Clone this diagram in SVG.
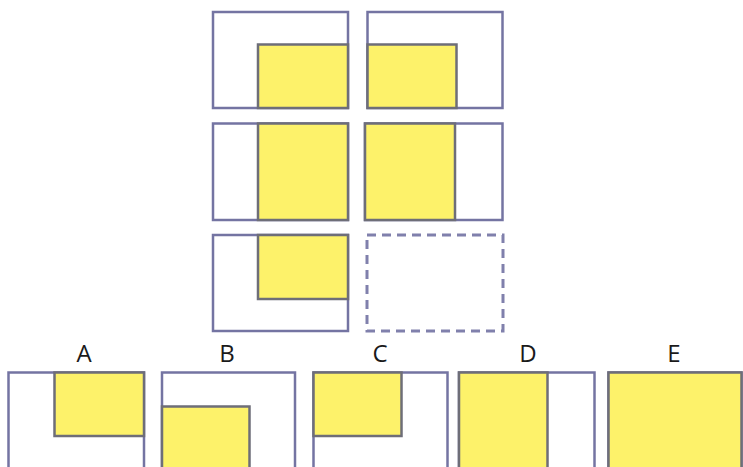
<svg xmlns="http://www.w3.org/2000/svg" width="743" height="467" viewBox="0 0 743 467">
<style>
.frame{fill:#fff;stroke:#7474a2;stroke-width:2.5}
.fill{fill:#fdf26a;stroke:#6e6e78;stroke-width:2.5}
.dash{fill:none;stroke:#8080ac;stroke-width:3;stroke-dasharray:9 6}
.lbl{font-family:"Open Sans","Liberation Sans",sans-serif;font-size:24px;fill:#1a1a1a;text-anchor:middle}
</style>
<rect width="743" height="467" fill="#fff"/>
<g id="r1c1"><rect class="frame" x="213" y="12" width="135" height="96"/><rect class="fill" x="258" y="44.5" width="90" height="63.5"/></g>
<g id="r1c2"><rect class="frame" x="367.5" y="12" width="135" height="96"/><rect class="fill" x="367.5" y="44.5" width="89" height="63.5"/></g>
<g id="r2c1"><rect class="frame" x="213" y="123.5" width="135" height="96.5"/><rect class="fill" x="258" y="123.5" width="90" height="96.5"/></g>
<g id="r2c2"><rect class="frame" x="365" y="123.5" width="137.5" height="96.5"/><rect class="fill" x="365" y="123.5" width="90" height="96.5"/></g>
<g id="r3c1"><rect class="frame" x="213" y="235" width="135" height="96"/><rect class="fill" x="258" y="235" width="90" height="64"/></g>
<g id="r3c2"><rect class="dash" x="367" y="235" width="136" height="96"/></g>
<g id="optA"><text class="lbl" x="84" y="362">A</text><rect class="frame" x="8.5" y="372.5" width="135.5" height="110"/><rect class="fill" x="54.5" y="372.5" width="89.5" height="63.5"/></g>
<g id="optB"><text class="lbl" x="227" y="362">B</text><rect class="frame" x="162" y="372.5" width="133" height="110"/><rect class="fill" x="162" y="406.5" width="87.5" height="76"/></g>
<g id="optC"><text class="lbl" x="380" y="362">C</text><rect class="frame" x="313.5" y="372.5" width="134" height="110"/><rect class="fill" x="313.5" y="372.5" width="88" height="63.5"/></g>
<g id="optD"><text class="lbl" x="528" y="362">D</text><rect class="frame" x="459" y="372.5" width="135.5" height="110"/><rect class="fill" x="459" y="372.5" width="88.5" height="110"/></g>
<g id="optE"><text class="lbl" x="674" y="362">E</text><rect class="frame" x="608.5" y="372.5" width="133" height="110"/><rect class="fill" x="608.5" y="372.5" width="133" height="110"/></g>
</svg>
